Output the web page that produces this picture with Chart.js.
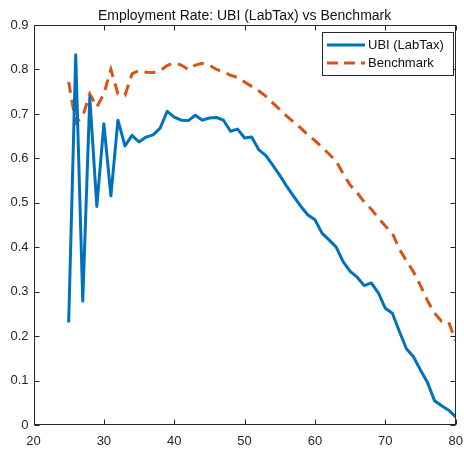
<!DOCTYPE html>
<html>
<head>
<meta charset="utf-8">
<script src="https://cdn.jsdelivr.net/npm/chart.js@4/dist/chart.umd.min.js"></script>
<style>
 body{margin:0;background:#fff;}
 canvas{display:block;}
</style>
</head>
<body>
<canvas id="chart" width="464" height="454"></canvas>
<script>
// Employment rate by age, UBI (LabTax) vs benchmark

const titleText = "Employment Rate: UBI (LabTax) vs Benchmark";
const ages = [25,26,27,28,29,30,31,32,33,34,35,36,37,38,39,40,41,42,43,44,45,46,47,48,49,50,
 51,52,53,54,55,56,57,58,59,60,61,62,63,64,65,66,67,68,69,70,71,72,73,74,75,76,77,78,79,80];
const ubi = [0.231,0.833,0.279,0.737,0.492,0.678,0.516,0.686,0.628,0.652,0.637,0.648,0.653,0.668,0.706,0.693,
 0.686,0.685,0.697,0.686,0.691,0.692,0.686,0.661,0.666,0.646,0.648,0.620,0.607,0.585,0.562,0.537,0.514,0.492,
 0.473,0.462,0.432,0.417,0.401,0.368,0.346,0.333,0.314,0.320,0.298,0.263,0.252,0.211,0.172,0.154,0.124,0.096,
 0.055,0.044,0.034,0.019];
const benchmark = [0.772,0.680,0.695,0.745,0.716,0.745,0.800,0.745,0.742,0.790,0.798,0.794,0.793,0.797,0.809,0.815,
 0.810,0.800,0.810,0.814,0.810,0.800,0.795,0.787,0.782,0.772,0.762,0.752,0.740,0.725,0.710,0.695,0.681,0.668,
 0.653,0.640,0.625,0.610,0.594,0.566,0.540,0.523,0.502,0.486,0.466,0.448,0.432,0.396,0.370,0.345,0.314,0.280,
 0.252,0.234,0.232,0.190];
const xTicks = [20,30,40,50,60,70,80];
const yTicks = [0,0.1,0.2,0.3,0.4,0.5,0.6,0.7,0.8,0.9];

const FONT = "'Liberation Sans', Arial, sans-serif";
const AXC = "#262626";
const BLUE = "#0072BD", ORANGE = "#D95319";

const toPts = ys => ages.map((a,i)=>({x:a,y:ys[i]}));

// box, inward ticks, title and legend (MATLAB look)
const frame = {
 id:'frame',
 afterDraw(chart){
  const c=chart.ctx, a=chart.chartArea, sx=chart.scales.x, sy=chart.scales.y;
  const L=Math.round(a.left)+0.5, R=Math.round(a.right)-0.5, T=Math.round(a.top)+0.5, B=Math.round(a.bottom)-0.5;
  c.save();
  c.strokeStyle=AXC; c.lineWidth=1;
  c.strokeRect(L,T,R-L,B-T);
  c.beginPath();
  xTicks.forEach(v=>{
   const px=Math.round(sx.getPixelForValue(v))+0.5;
   c.moveTo(px,B); c.lineTo(px,B-5);
   c.moveTo(px,T); c.lineTo(px,T+5);
  });
  yTicks.forEach(v=>{
   const py=Math.round(sy.getPixelForValue(v))+0.5;
   c.moveTo(L,py); c.lineTo(L+5,py);
   c.moveTo(R,py); c.lineTo(R-5,py);
  });
  c.stroke();

  // title
  c.fillStyle="#111"; c.font="14px "+FONT; c.textAlign="center"; c.textBaseline="alphabetic";
  c.fillText(titleText,(a.left+a.right)/2,20);

  // legend
  const bx=322.5, by=32.5, bw=131, bh=43;
  c.fillStyle="#fff"; c.fillRect(bx,by,bw,bh);
  c.strokeStyle=AXC; c.strokeRect(bx,by,bw,bh);
  c.lineWidth=3;
  c.strokeStyle=BLUE; c.setLineDash([]);
  c.beginPath(); c.moveTo(327,45); c.lineTo(365,45); c.stroke();
  c.strokeStyle=ORANGE; c.setLineDash([11,6]);
  c.beginPath(); c.moveTo(327,63); c.lineTo(365,63); c.stroke();
  c.setLineDash([]);
  c.fillStyle="#111"; c.font="13px "+FONT; c.textAlign="left"; c.textBaseline="middle";
  chart.data.datasets.forEach((d,i)=>c.fillText(d.label,368,45+i*18));
  c.restore();
 }
};

new Chart(document.getElementById('chart'),{
 type:'line',
 data:{
  datasets:[
   {label:"UBI (LabTax)",data:toPts(ubi),borderColor:BLUE,borderWidth:3,pointRadius:0,tension:0,borderJoinStyle:'round'},
   {label:"Benchmark",data:toPts(benchmark),borderColor:ORANGE,borderWidth:3,pointRadius:0,tension:0,borderDash:[11,7]}
  ]
 },
 options:{
  responsive:false,animation:false,
  layout:{padding:{top:25,right:8.3,bottom:0,left:0}},
  plugins:{legend:{display:false},title:{display:false},tooltip:{enabled:false}},
  scales:{
   x:{type:'linear',min:20,max:80,
    afterBuildTicks:s=>{s.ticks=xTicks.map(v=>({value:v}));},
    afterFit:s=>{s.height=28.7; s.paddingLeft=0; s.paddingRight=0;},
    grid:{display:false,drawTicks:false},border:{display:false},
    ticks:{color:AXC,font:{family:FONT,size:13},padding:8,maxRotation:0,autoSkip:false}},
   y:{min:0,max:0.9,
    afterBuildTicks:s=>{s.ticks=yTicks.map(v=>({value:v}));},
    afterFit:s=>{s.width=33.5; s.paddingTop=0; s.paddingBottom=0;},
    grid:{display:false,drawTicks:false},border:{display:false},
    ticks:{color:AXC,font:{family:FONT,size:13},padding:5,autoSkip:false,
     callback:v=>v===0?"0":v.toFixed(1)}}
  }
 },
 plugins:[frame]
});
</script>
</body>
</html>
